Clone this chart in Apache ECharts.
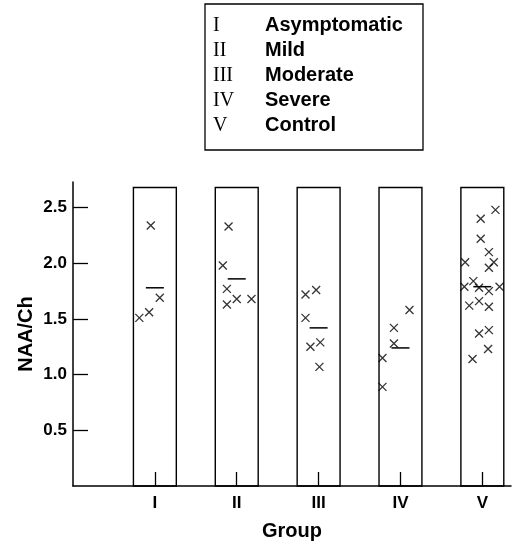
<!DOCTYPE html>
<html>
<head>
<meta charset="utf-8">
<script src="https://cdn.jsdelivr.net/npm/echarts@6/dist/echarts.min.js"></script>
<style>
  html, body { margin: 0; padding: 0; background: #fff; }
  #chart { width: 514px; height: 544px; }
</style>
</head>
<body>
<div id="chart"></div>
<script>
// group labels on the x axis and in the key
let groupLabels = ['I', 'II', 'III', 'IV', 'V'];
let groupNames = ['Asymptomatic', 'Mild', 'Moderate', 'Severe', 'Control'];
let yTicks = [0.5, 1.0, 1.5, 2.0, 2.5];

// NAA/Ch per patient, with horizontal jitter (in group units) as plotted
let groupI = [1.51, 1.56, 1.69, 2.34];
let jitterI = [-0.19, -0.07, 0.06, -0.05];
let groupII = [2.33, 1.98, 1.77, 1.63, 1.68, 1.68];
let jitterII = [-0.10, -0.17, -0.12, -0.12, 0.0, 0.18];
let groupIII = [1.72, 1.76, 1.51, 1.25, 1.29, 1.07];
let jitterIII = [-0.16, -0.03, -0.16, -0.10, 0.02, 0.01];
let groupIV = [1.15, 0.89, 1.42, 1.28, 1.58];
let jitterIV = [-0.22, -0.22, -0.08, -0.08, 0.11];
let groupV = [2.48, 2.40, 2.22, 2.10, 2.01, 2.01, 1.96, 1.79, 1.84, 1.78, 1.75, 1.79,
  1.62, 1.66, 1.61, 1.37, 1.40, 1.23, 1.14];
let jitterV = [0.16, -0.02, -0.02, 0.08, -0.21, 0.14, 0.08, -0.22, -0.11, -0.04, 0.08, 0.21,
  -0.16, -0.04, 0.08, -0.04, 0.08, 0.07, -0.12];

// group means (horizontal bars)
let means = [1.78, 1.86, 1.42, 1.24, 1.79];

let boxTop = 2.68;
let boxHalf = 0.262;
let meanHalf = 0.11;

let groups = [groupI, groupII, groupIII, groupIV, groupV];
let jitters = [jitterI, jitterII, jitterIII, jitterIV, jitterV];

let points = [];
groups.forEach(function (vals, g) {
  vals.forEach(function (v, i) {
    points.push([g + 1 + jitters[g][i], v]);
  });
});

let font = 'Liberation Sans, Arial, sans-serif';

let keyGraphics = [{
  type: 'rect',
  shape: {x: 205, y: 4, width: 218, height: 146},
  style: {fill: 'none', stroke: '#000', lineWidth: 1.3}
}];
groupLabels.forEach(function (lab, i) {
  let y = 25.5 + 25 * i;
  keyGraphics.push({
    type: 'text', x: 213, y: y,
    style: {text: lab, fontFamily: 'Liberation Serif, Times New Roman, serif', fontSize: 20,
      fill: '#000', verticalAlign: 'middle'}
  });
  keyGraphics.push({
    type: 'text', x: 265, y: y,
    style: {text: groupNames[i], fontFamily: font, fontSize: 20, fontWeight: 'bold',
      fill: '#000', verticalAlign: 'middle'}
  });
});

let option = {
  animation: false,
  backgroundColor: '#fff',
  graphic: keyGraphics,
  grid: {left: 73, right: 3, top: 182, bottom: 58, outerBoundsMode: 'none'},
  xAxis: {
    type: 'value',
    min: 0,
    max: 5.35,
    name: 'Group',
    nameLocation: 'middle',
    nameGap: 35,
    nameMoveOverlap: false,
    nameTextStyle: {fontFamily: font, fontSize: 20, fontWeight: 'bold', color: '#000'},
    axisLine: {lineStyle: {color: '#000', width: 1.5}},
    axisTick: {inside: true, length: 14, customValues: [1, 2, 3, 4, 5],
      lineStyle: {color: '#000', width: 1.3}},
    axisLabel: {
      customValues: [1, 2, 3, 4, 5],
      margin: 9,
      fontFamily: font, fontSize: 17, fontWeight: 'bold', color: '#000',
      formatter: function (v) { return groupLabels[Math.round(v) - 1] || ''; }
    },
    splitLine: {show: false}
  },
  yAxis: {
    type: 'value',
    min: 0,
    max: 2.73,
    name: 'NAA/Ch',
    nameLocation: 'middle',
    nameGap: 37,
    nameMoveOverlap: false,
    nameTextStyle: {fontFamily: font, fontSize: 20, fontWeight: 'bold', color: '#000'},
    axisLine: {show: true, lineStyle: {color: '#000', width: 1.5}},
    axisTick: {show: true, inside: true, length: 15, customValues: yTicks,
      lineStyle: {color: '#000', width: 1.3}},
    axisLabel: {
      customValues: yTicks,
      margin: 6,
      fontFamily: font, fontSize: 17, fontWeight: 'bold', color: '#000',
      formatter: function (v) { return v.toFixed(1); }
    },
    splitLine: {show: false}
  },
  series: [
    {
      type: 'custom',
      name: 'boxes',
      data: groupLabels.map(function (l, i) { return [i + 1, boxTop]; }),
      renderItem: function (params, api) {
        let g = api.value(0);
        let p0 = api.coord([g - boxHalf, api.value(1)]);
        let p1 = api.coord([g + boxHalf, 0]);
        return {
          type: 'rect',
          shape: {x: p0[0], y: p0[1], width: p1[0] - p0[0], height: p1[1] - p0[1]},
          style: {fill: 'none', stroke: '#000', lineWidth: 1.4}
        };
      },
      z: 1
    },
    {
      type: 'custom',
      name: 'means',
      data: means.map(function (m, i) { return [i + 1, m]; }),
      renderItem: function (params, api) {
        let g = api.value(0);
        let a = api.coord([g - meanHalf, api.value(1)]);
        let b = api.coord([g + meanHalf, api.value(1)]);
        return {
          type: 'line',
          shape: {x1: a[0], y1: a[1], x2: b[0], y2: b[1]},
          style: {stroke: '#000', lineWidth: 1.5}
        };
      },
      z: 2
    },
    {
      type: 'scatter',
      name: 'patients',
      data: points,
      symbol: 'path://M0,0L10,10M10,0L0,10',
      symbolSize: 8,
      itemStyle: {color: 'none', borderColor: '#000', borderWidth: 1.3},
      z: 3
    }
  ]
};

let myChart = echarts.init(document.getElementById('chart'));
myChart.setOption(option);
</script>
</body>
</html>
